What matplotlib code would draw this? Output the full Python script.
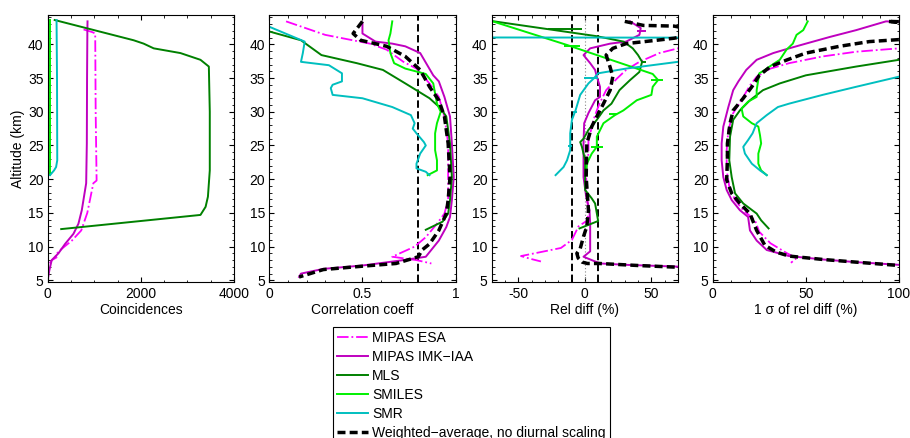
"""Ozone-type profile comparison: coincidences, correlation, bias and spread vs altitude."""
import matplotlib
matplotlib.use("Agg")
import matplotlib.pyplot as plt
from matplotlib.ticker import MultipleLocator, FormatStrFormatter

plt.rcParams.update({
    "font.family": ["Liberation Sans", "DejaVu Sans"],
    "font.size": 10,
    "axes.linewidth": 0.8,
    "xtick.direction": "in",
    "ytick.direction": "in",
    "xtick.top": True,
    "ytick.right": True,
    "xtick.major.size": 3.5,
    "ytick.major.size": 3.5,
    "xtick.minor.size": 1.8,
    "ytick.minor.size": 1.8,
    "xtick.major.pad": 4,
    "ytick.major.pad": 3,
})

LABELS = ["MIPAS ESA", "MIPAS IMK\u2212IAA", "MLS", "SMILES", "SMR",
          "Weighted\u2212average, no diurnal scaling"]

# ---- panel 1: number of coincidences ----
CNT_ESA_ALT = [42.2, 41.8, 41.6, 30.0, 19.8, 19.4, 15.0, 13.4, 12.4, 10.9, 9.5, 8.7, 8.4, 8.0, 7.5]
CNT_ESA = [770, 960, 1020, 1030, 1050, 980, 850, 770, 720, 520, 270, 160, 190, 90, 40]
CNT_IMK_ALT = [43.4, 42.2, 35.0, 25.3, 19.4, 15.4, 13.4, 11.9, 10.4, 9.0, 8.0, 6.5, 5.6]
CNT_IMK = [855, 852, 845, 840, 826, 732, 660, 553, 373, 230, 86, 36, 14]
CNT_MLS_ALT = [43.6, 40.6, 40.1, 39.4, 38.7, 37.7, 36.7, 30.0, 21.3, 17.4, 15.9, 14.7, 12.6]
CNT_MLS = [150, 1845, 2060, 2276, 2850, 3280, 3460, 3480, 3480, 3440, 3390, 3280, 290]
CNT_SMI_ALT = [43.6, 35.0, 25.0, 20.6]
CNT_SMI = [40, 40, 40, 40]
CNT_SMR_ALT = [43.6, 35.0, 22.8, 21.8, 21.3, 20.6]
CNT_SMR = [190, 200, 205, 180, 136, 50]

# ---- panel 2: correlation coefficient ----
COR_ESA_ALT = [43.4, 41.4, 40.1, 39.2, 37.4, 36.4, 34.2, 32.2, 29.3, 25.3, 20.3, 16.9,
               14.9, 13.4, 11.4, 10.0, 8.5, 8.0, 7.5]
COR_ESA = [0.09, 0.30, 0.54, 0.63, 0.72, 0.79, 0.86, 0.91, 0.94, 0.96, 0.96, 0.96,
           0.94, 0.90, 0.84, 0.78, 0.66, 0.79, 0.87]
COR_IMK_ALT = [43.2, 41.6, 40.4, 40.1, 39.7, 38.7, 35.4, 34.5, 32.2, 29.3, 25.3, 20.3,
               16.9, 14.4, 12.9, 10.9, 8.5, 8.0, 7.2, 6.7, 6.0, 5.5]
COR_IMK = [0.50, 0.50, 0.57, 0.66, 0.73, 0.81, 0.88, 0.91, 0.94, 0.97, 0.98, 0.99,
           0.98, 0.97, 0.95, 0.91, 0.84, 0.72, 0.50, 0.29, 0.17, 0.16]
COR_MLS_ALT = [43.5, 41.9, 40.6, 38.4, 37.2, 36.2, 34.2, 32.0, 30.5, 29.3, 25.3, 20.3,
               16.9, 14.9, 13.7, 12.5]
COR_MLS = [-0.15, 0.0, 0.17, 0.28, 0.47, 0.61, 0.73, 0.86, 0.92, 0.95, 0.97, 0.98,
           0.97, 0.96, 0.93, 0.84]
COR_SMI_ALT = [43.4, 41.6, 40.6, 38.7, 37.2, 36.4, 35.6, 34.2, 32.7, 31.2, 30.0, 28.3,
               26.8, 24.3, 22.8, 21.3, 20.6]
COR_SMI = [0.66, 0.65, 0.64, 0.65, 0.67, 0.73, 0.84, 0.88, 0.89, 0.90, 0.92, 0.90,
           0.89, 0.89, 0.90, 0.90, 0.85]
COR_SMR_ALT = [43.5, 42.6, 40.4, 38.7, 37.4, 36.9, 35.7, 34.5, 34.0, 33.5, 32.5, 32.0,
               30.7, 29.5, 28.3, 27.5, 26.8, 25.5, 25.0, 23.8, 22.3, 21.6, 21.1, 20.6]
COR_SMR = [-0.15, 0.0, 0.19, 0.18, 0.17, 0.32, 0.39, 0.39, 0.34, 0.33, 0.34, 0.50,
           0.66, 0.76, 0.78, 0.77, 0.79, 0.83, 0.84, 0.81, 0.79, 0.79, 0.84, 0.86]
COR_AVG_ALT = [43.4, 41.6, 40.6, 39.7, 38.2, 36.2, 33.7, 31.7, 29.3, 25.3, 20.3, 16.9,
               14.9, 12.4, 10.4, 9.5, 8.5, 7.5, 7.1, 6.6, 5.5]
COR_AVG = [0.50, 0.45, 0.49, 0.63, 0.73, 0.81, 0.86, 0.91, 0.94, 0.96, 0.97, 0.96,
           0.95, 0.91, 0.86, 0.82, 0.80, 0.68, 0.50, 0.29, 0.16]
COR_REF = 0.8

# ---- panel 3: relative difference (%) ----
REL_ESA_ALT = [40.5, 39.4, 38.7, 37.4, 36.2, 34.9, 33.2, 31.2, 30.2, 28.8, 27.3, 25.8,
               23.8, 22.3, 20.3, 17.4, 15.4, 13.9, 13.0, 11.0, 9.8, 8.6, 8.2, 7.8]
REL_ESA = [110, 70, 56, 41, 31, 24, 16, 11, 9, 6.5, 4.7, 2.7,
           2.7, 1.5, 1.0, 1.5, 2.7, 2.0, -4.8, -9.7, -18, -48, -41, -33]
REL_IMK_ALT = [43.4, 42.4, 41.4, 40.4, 40.1, 39.4, 38.4, 37.2, 36.2, 35.2, 33.7, 32.2,
               31.7, 29.8, 28.3, 25.3, 20.3, 17.4, 15.4, 13.4, 10.5, 9.3, 8.5, 7.8,
               7.5, 7.3, 7.0]
REL_IMK = [34, 42, 41, 31, 19, 4, -1, 4, 7.7, 9, 11.4, 11.4,
           7.7, 2.7, -0.5, -1, -1, 1, 3.5, 4, 4, 4, -1, 7.7,
           12, 31, 75]
REL_MLS_ALT = [43.45, 41.2, 40.4, 39.4, 38.4, 37.4, 35.9, 34.7, 33.2, 31.2, 30.2, 28.8,
               27.3, 26.0, 25.5, 24.8, 22.8, 20.3, 18.4, 17.2, 16.4, 13.8, 12.7]
REL_MLS = [-70, 9, 29, 36, 40, 43, 41, 34, 26, 20, 14, 9,
           2.7, -1, -3.5, -2.2, 0.2, 0.2, 0.2, 5, 7.7, 10, -4]
REL_SMI_ALT = [43.45, 39.9, 35.6, 34.7, 33.7, 32.5, 31.7, 30.2, 29.5, 28.3, 26.3, 24.8,
               23.8, 22.3, 20.6]
REL_SMI = [-70, -13.4, 51, 55, 51, 50, 39, 29, 22.6, 14, 9, 9,
           5.2, 1.5, 1.0]
REL_SMR_ALT = [42.6, 41.05, 40.95, 37.4, 36.4, 35.7, 34.9, 34.2, 32.5, 30.2, 28.8, 26.8,
               24.3, 22.8, 21.8, 20.6]
REL_SMR = [-300, -300, 300, 70, 31, 10, 6.5, 2.7, -3.5, -7, -9.7, -11,
           -11, -13.4, -16, -22]
REL_AVG_ALT = [43.4, 42.8, 42.7, 41.8, 40.9, 40.6, 40.1, 39.4, 38.4, 36.6, 35.2, 33.2,
               31.2, 29.3, 27.8, 25.3, 20.3, 17.4, 15.4, 13.0, 11.5, 9.7, 9.0, 8.3,
               7.7, 7.5, 7.5, 7.2, 6.9]
REL_AVG = [30, 44, 67, 90, 67, 54, 31, 21, 16, 19, 21, 19,
           14, 9, 5.2, 1.5, 1.0, 2.0, 2.7, 1.5, -1, -3.5, -6, -5,
           -2, 2, 11, 40, 75]
REL_REF = [-10, 10]

# error bars drawn on a few levels of the relative-difference panel
ERR_SERIES = [2, 2, 3, 3, 3, 3, 4, 4, 4, 1]
ERR_ALT = [42.3, 37.4, 39.8, 34.7, 29.7, 24.7, 35.0, 29.9, 24.9, 41.9]
ERR_MID = [-15, 44, -10, 54, 21, 9, 4.5, -7.7, -11.5, 42.5]
ERR_HALF = [13, 2, 6, 4.5, 3, 4.3, 5.5, 1.5, 1.5, 3.5]

# ---- panel 4: 1 sigma of relative difference (%) ----
SIG_ESA_ALT = [40.0, 39.4, 38.9, 38.2, 37.2, 36.4, 35.2, 33.9, 32.2, 29.8, 27.3, 24.3,
               21.3, 18.9, 16.9, 15.4, 13.9, 12.2, 10.5, 9.0, 8.3, 7.6]
SIG_ESA = [120, 100, 77, 59, 41, 31, 23.6, 20, 16.4, 11, 8.4, 7.5,
           7.5, 8.9, 12, 16.4, 22.7, 25, 31, 40, 45, 42]
SIG_IMK_ALT = [43.2, 43.4, 42.1, 41.1, 40.1, 39.4, 38.7, 37.7, 36.2, 34.5, 33.2, 30.7,
               27.8, 25.3, 22.8, 20.3, 18.4, 16.9, 15.4, 14.4, 12.4, 10.9, 9.5, 8.6,
               8.1, 7.7, 7.3]
SIG_IMK = [120, 93, 77, 63, 50, 41, 32.5, 23.6, 18, 13.8, 11, 8.4,
           5.7, 4.8, 4.8, 5.7, 7.5, 10.2, 14.6, 19, 20, 23.6, 29, 41,
           59, 77, 100]
SIG_MLS_ALT = [38.0, 37.7, 36.7, 35.4, 34.2, 33.2, 31.7, 30.2, 28.8, 26.3, 22.8, 20.3,
               17.9, 16.4, 14.9, 13.9, 12.7]
SIG_MLS = [120, 100, 77, 50, 36, 27, 20, 14.6, 11, 9.3, 8.9, 10.2,
           12, 16.4, 23.6, 26, 30]
SIG_SMI_ALT = [43.4, 42.1, 41.4, 40.1, 39.2, 37.7, 36.9, 36.2, 35.7, 33.2, 32.2, 31.5,
               30.5, 29.3, 28.3, 27.8, 26.5, 25.3, 23.8, 22.3, 21.3, 20.6]
SIG_SMI = [51, 48.6, 45, 43, 39.6, 36, 31.6, 28, 25, 23.6, 23.6, 19,
           15.5, 16.4, 21, 24.5, 25.4, 26, 24.5, 24.5, 26, 29]
SIG_SMR_ALT = [35.5, 35.2, 33.7, 32.5, 31.2, 30.7, 29.5, 28.3, 26.8, 25.8, 24.8, 23.8,
               22.3, 21.3, 20.6]
SIG_SMR = [120, 100, 77, 59, 41, 35, 29, 23.6, 21.4, 19, 16.4, 17.3,
           21, 25.4, 29]
SIG_AVG_ALT = [43.2, 43.4, 42.6, 40.9, 40.7, 40.4, 39.7, 38.7, 37.7, 36.7, 35.4, 33.7,
               32.0, 30.2, 28.3, 25.3, 22.8, 19.9, 17.9, 16.4, 14.9, 12.4, 10.2, 9.2,
               8.6, 8.1, 7.7, 7.2]
SIG_AVG = [120, 94, 130, 130, 100, 84, 68, 50, 40, 31, 25, 21,
           16.4, 11, 9.3, 7.9, 7.9, 7.5, 10.2, 14.6, 20, 23.6, 28, 34,
           41, 59, 77, 100]

COLORS = ["#ff00ff", "#bf00bf", "#008000", "#00f000", "#00bfbf", "black"]
STYLES = ["-.", "-", "-", "-", "-", (0, (2.3, 1.2))]
WIDTHS = [1.3, 1.4, 1.4, 1.4, 1.4, 2.5]

W, H = 910, 438
LEFTS = [47.7, 269.3, 491.7, 712.7]
WIDTH = 186.3
TOP, BOTTOM = 15.3, 281.7


def draw_profiles(ax, profiles):
    lines = {}
    for i, prof in enumerate(profiles):
        if prof is None:
            continue
        alt, val = prof
        ln, = ax.plot(val, alt, color=COLORS[i], ls=STYLES[i], lw=WIDTHS[i],
                      label=LABELS[i])
        lines[i] = ln
    return lines


def style_axes(ax, xlim, xticks, xmajor, xlabel, fmt="%g"):
    ax.set_xlim(*xlim)
    ax.set_ylim(4.8, 44.3)
    ax.set_xticks(xticks)
    ax.xaxis.set_major_formatter(FormatStrFormatter(fmt))
    ax.xaxis.set_minor_locator(MultipleLocator(xmajor))
    ax.yaxis.set_major_locator(MultipleLocator(5))
    ax.yaxis.set_minor_locator(MultipleLocator(1))
    ax.set_xlabel(xlabel, labelpad=1)
    ax.tick_params(which="both", colors="black", labelsize=10)


def main():
    fig = plt.figure(figsize=(W / 100, H / 100), dpi=100)
    axes = [fig.add_axes([l / W, 1 - BOTTOM / H, WIDTH / W, (BOTTOM - TOP) / H])
            for l in LEFTS]

    # coincidences
    ax = axes[0]
    draw_profiles(ax, [(CNT_ESA_ALT, CNT_ESA), (CNT_IMK_ALT, CNT_IMK),
                       (CNT_MLS_ALT, CNT_MLS), (CNT_SMI_ALT, CNT_SMI),
                       (CNT_SMR_ALT, CNT_SMR), None])
    style_axes(ax, (0, 4000), [0, 2000, 4000], 500, "Coincidences")
    ax.set_ylabel("Altitude (km)", labelpad=2)

    # correlation
    ax = axes[1]
    ax.axvline(COR_REF, color="black", lw=1.4, ls=(0, (3.8, 1.8)))
    handles = draw_profiles(ax, [(COR_ESA_ALT, COR_ESA), (COR_IMK_ALT, COR_IMK),
                                 (COR_MLS_ALT, COR_MLS), (COR_SMI_ALT, COR_SMI),
                                 (COR_SMR_ALT, COR_SMR), (COR_AVG_ALT, COR_AVG)])
    style_axes(ax, (0, 1), [0, 0.5, 1], 0.1, "Correlation coeff")

    # relative difference
    ax = axes[2]
    ax.axvline(0, color="#888888", lw=0.8, ls=(0, (1, 2)))
    for r in REL_REF:
        ax.axvline(r, color="black", lw=1.4, ls=(0, (3.8, 1.8)))
    draw_profiles(ax, [(REL_ESA_ALT, REL_ESA), (REL_IMK_ALT, REL_IMK),
                       (REL_MLS_ALT, REL_MLS), (REL_SMI_ALT, REL_SMI),
                       (REL_SMR_ALT, REL_SMR), (REL_AVG_ALT, REL_AVG)])
    for s, a, m, h in zip(ERR_SERIES, ERR_ALT, ERR_MID, ERR_HALF):
        ax.errorbar(m, a, xerr=h, fmt="none", ecolor=COLORS[s], elinewidth=1.4,
                    capsize=0)
    style_axes(ax, (-70, 70), [-50, 0, 50], 10, "Rel diff (%)")

    # 1 sigma
    ax = axes[3]
    draw_profiles(ax, [(SIG_ESA_ALT, SIG_ESA), (SIG_IMK_ALT, SIG_IMK),
                       (SIG_MLS_ALT, SIG_MLS), (SIG_SMI_ALT, SIG_SMI),
                       (SIG_SMR_ALT, SIG_SMR), (SIG_AVG_ALT, SIG_AVG)])
    style_axes(ax, (0, 100), [0, 50, 100], 10, "1 \u03c3 of rel diff (%)")

    # legend box runs off the bottom edge, as in the original figure
    leg = fig.legend([handles[i] for i in range(6)], LABELS, loc="upper left",
                     bbox_to_anchor=(333.3 / W, 1 - 326.7 / H), borderaxespad=0,
                     frameon=True, fancybox=False, framealpha=1, edgecolor="black",
                     borderpad=0.3, labelspacing=0.36, handlelength=2.2,
                     handletextpad=0.3, fontsize=10)
    leg.get_frame().set_linewidth(0.8)

    fig.savefig("out.png", dpi=100)
    plt.close(fig)


if __name__ == "__main__":
    main()
